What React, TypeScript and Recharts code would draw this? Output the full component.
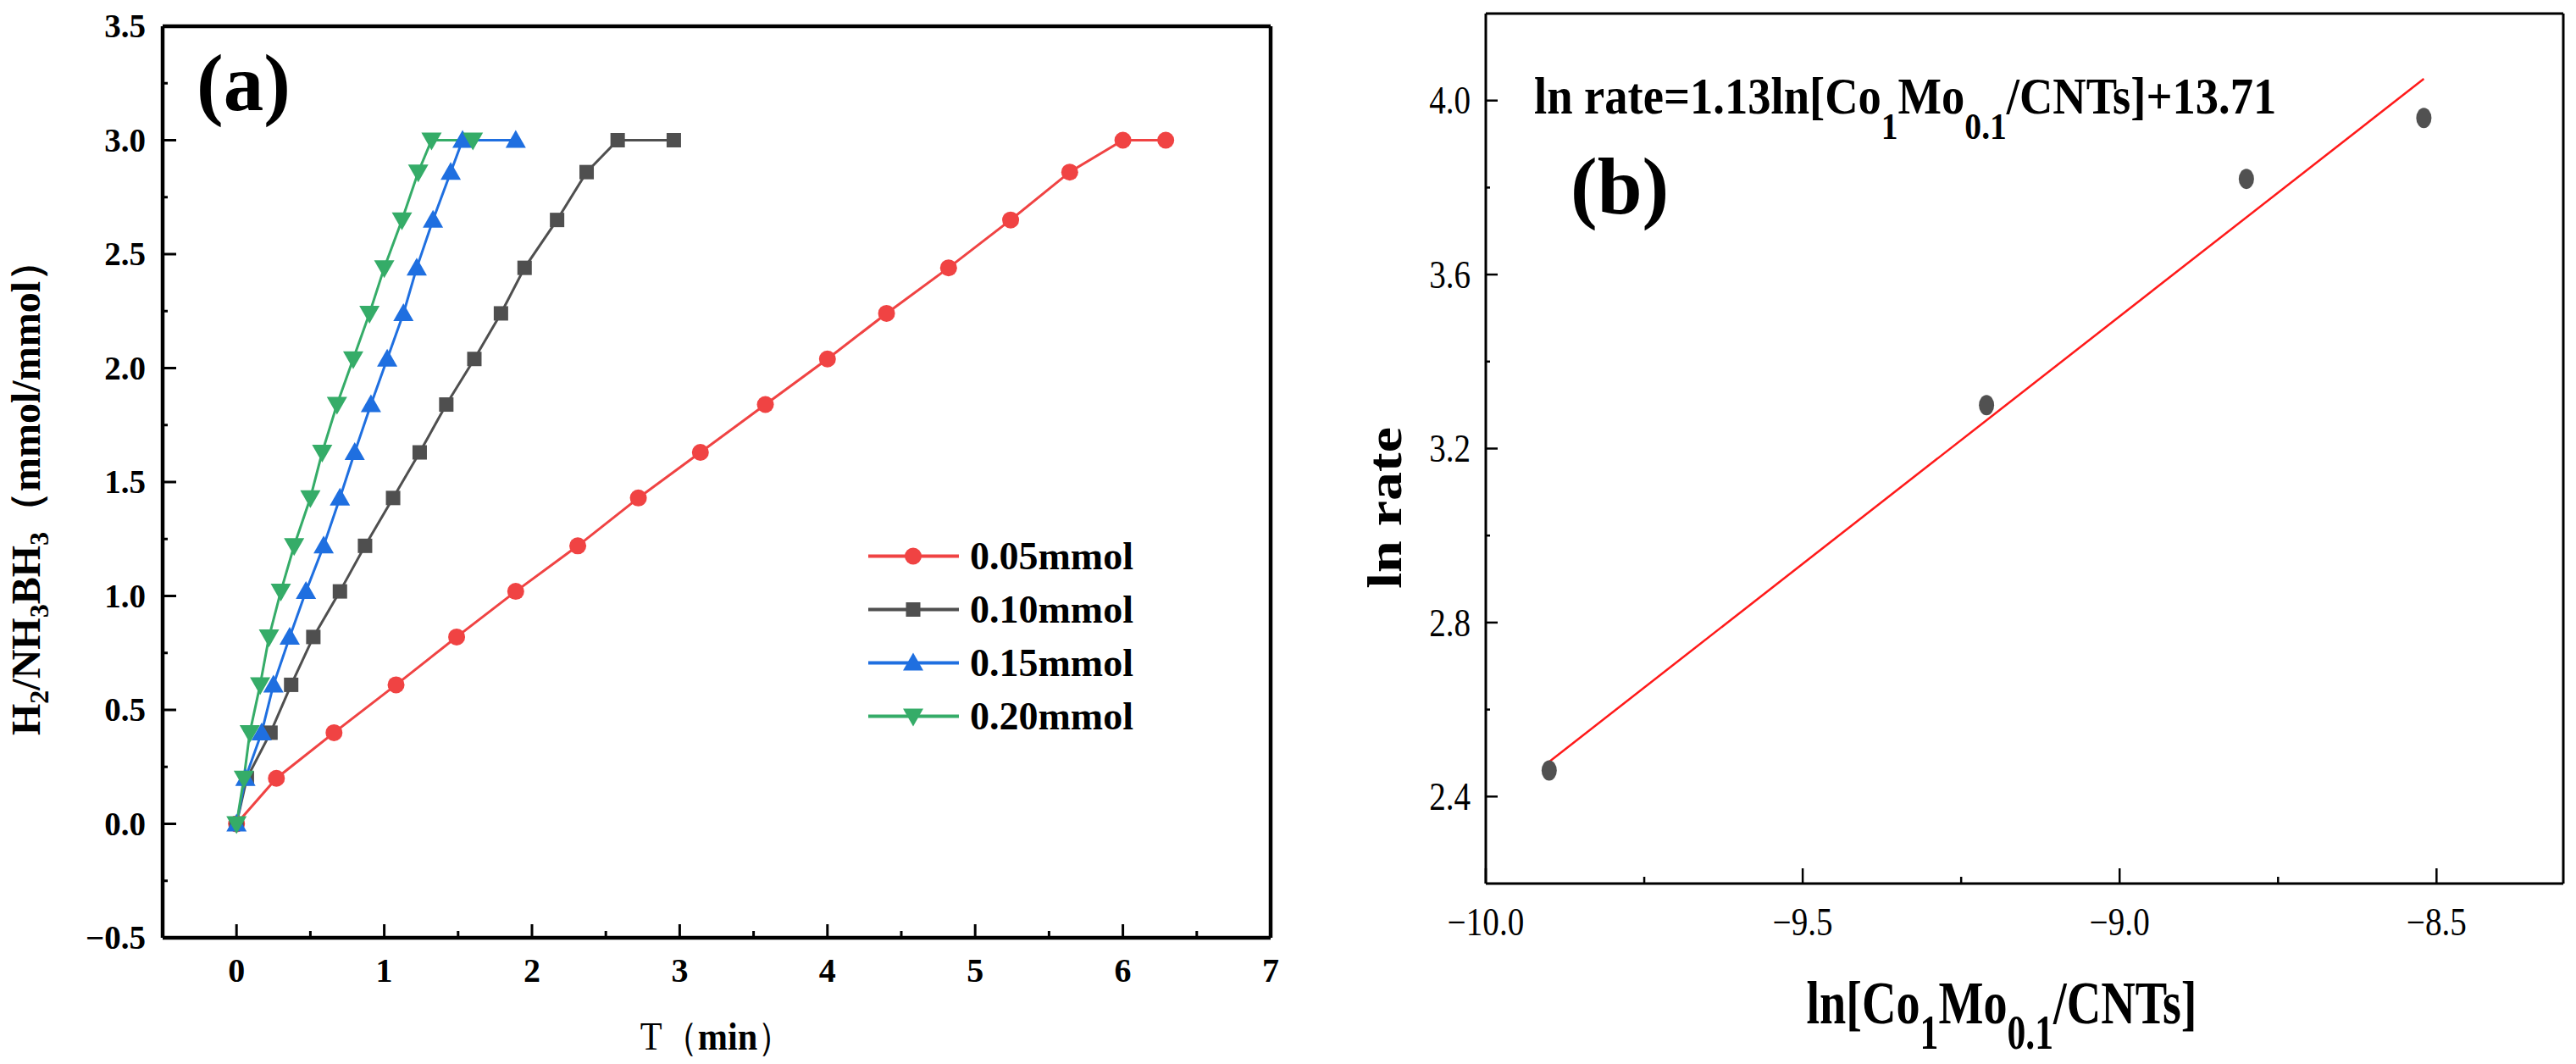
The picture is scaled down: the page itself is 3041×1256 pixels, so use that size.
import React from "react";
import {
  ComposedChart,
  Label,
  Legend,
  Line,
  LineChart,
  ReferenceLine,
  Scatter,
  XAxis,
  YAxis,
} from "recharts";

const SERIF = "'Liberation Serif', 'Times New Roman', serif";

// (a) H2 released vs time for four catalyst loadings
const LOADINGS = ["0.05mmol", "0.10mmol", "0.15mmol", "0.20mmol"];
const H2_RATIO = [0, 0.2, 0.4, 0.61, 0.82, 1.02, 1.22, 1.43, 1.63, 1.84, 2.04, 2.24, 2.44, 2.65, 2.86, 3.0, 3.0];
const T_005 = [0, 0.27, 0.66, 1.08, 1.49, 1.89, 2.31, 2.72, 3.14, 3.58, 4.0, 4.4, 4.82, 5.24, 5.64, 6.0, 6.29];
const T_010 = [0, 0.07, 0.23, 0.37, 0.52, 0.7, 0.87, 1.06, 1.24, 1.42, 1.61, 1.79, 1.95, 2.17, 2.37, 2.58, 2.96];
const T_015 = [0, 0.06, 0.17, 0.25, 0.36, 0.47, 0.59, 0.7, 0.8, 0.91, 1.02, 1.13, 1.22, 1.33, 1.45, 1.53, 1.89];
const T_020 = [0, 0.05, 0.09, 0.16, 0.22, 0.3, 0.39, 0.5, 0.58, 0.68, 0.79, 0.9, 1.0, 1.12, 1.23, 1.32, 1.6];
const T_LISTS = [T_005, T_010, T_015, T_020];
const COLORS = ["#F04343", "#4F4F4F", "#1F6FE0", "#35AC68"];
const MARKERS = ["circle", "square", "up", "down"];

const A_X_MAJOR = [0, 1, 2, 3, 4, 5, 6, 7];
const A_X_MINOR = [0.5, 1.5, 2.5, 3.5, 4.5, 5.5, 6.5];
const A_Y_MAJOR = [-0.5, 0, 0.5, 1, 1.5, 2, 2.5, 3, 3.5];
const A_Y_MINOR = [-0.25, 0.25, 0.75, 1.25, 1.75, 2.25, 2.75, 3.25];

// (b) ln rate vs ln[catalyst]
const LN_CAT = [-9.9, -9.21, -8.8, -8.52];
const LN_RATE = [2.46, 3.3, 3.82, 3.96];
const FIT_X = [-9.9, -8.52];
const FIT_Y = [2.48, 4.05];

const B_X_MAJOR = [-10, -9.5, -9, -8.5];
const B_X_MINOR = [-9.75, -9.25, -8.75];
const B_Y_MAJOR = [2.4, 2.8, 3.2, 3.6, 4.0];
const B_Y_MINOR = [2.6, 3.0, 3.4, 3.8];

const seriesA = LOADINGS.map((name, i) => ({
  name,
  color: COLORS[i],
  marker: MARKERS[i],
  data: T_LISTS[i].map((t, j) => ({ t, r: H2_RATIO[j] })),
}));
const pointsB = LN_CAT.map((x, i) => ({ x, y: LN_RATE[i] }));
const fitB = FIT_X.map((x, i) => ({ x, y: FIT_Y[i] }));

const minus = (s: string) => s.replace("-", "\u2212");

function Marker({ kind, cx, cy, color }: any) {
  if (kind === "circle") return <circle cx={cx} cy={cy} r={10} fill={color} />;
  if (kind === "square")
    return <rect x={cx - 8.5} y={cy - 8.5} width={17} height={17} fill={color} />;
  if (kind === "up")
    return (
      <polygon
        points={`${cx},${cy - 12} ${cx + 12},${cy + 9} ${cx - 12},${cy + 9}`}
        fill={color}
      />
    );
  return (
    <polygon
      points={`${cx},${cy + 12} ${cx + 12},${cy - 9} ${cx - 12},${cy - 9}`}
      fill={color}
    />
  );
}

type TickStyle = {
  side: "bottom" | "left";
  majors: number[];
  fmt: (v: number) => string;
  majorLen: number;
  minorLen: number;
  stroke: number;
  gap: number;
  fontSize: number;
  bold: boolean;
  sx: number;
};

// ticks point into the plot, minor ticks get no label
function AxisTick(props: any) {
  const { x, y, payload, st } = props as { x: number; y: number; payload: any; st: TickStyle };
  const v = payload.value;
  const major = st.majors.some((m) => Math.abs(m - v) < 1e-9);
  const len = major ? st.majorLen : st.minorLen;
  const bottom = st.side === "bottom";
  const tx = bottom ? x : x - st.gap;
  const ty = bottom ? y + st.gap : y;
  return (
    <g>
      <line
        x1={x}
        y1={y}
        x2={bottom ? x : x + len}
        y2={bottom ? y - len : y}
        stroke="#000"
        strokeWidth={st.stroke}
      />
      {major && (
        <text
          transform={`translate(${tx},${ty}) scale(${st.sx},1)`}
          textAnchor={bottom ? "middle" : "end"}
          dy={bottom ? 0 : "0.34em"}
          style={{
            fontFamily: SERIF,
            fontSize: st.fontSize,
            fontWeight: st.bold ? 700 : 400,
          }}
          fill="#000"
        >
          {st.fmt(v)}
        </text>
      )}
    </g>
  );
}

const A_XT: TickStyle = {
  side: "bottom", majors: A_X_MAJOR, fmt: (v) => String(v),
  majorLen: 16, minorLen: 8, stroke: 3, gap: 52, fontSize: 40, bold: true, sx: 1,
};
const A_YT: TickStyle = {
  side: "left", majors: A_Y_MAJOR, fmt: (v) => minus(v.toFixed(1)),
  majorLen: 16, minorLen: 6, stroke: 3, gap: 20, fontSize: 39, bold: true, sx: 1,
};
const B_XT: TickStyle = {
  side: "bottom", majors: B_X_MAJOR, fmt: (v) => minus(v.toFixed(1)),
  majorLen: 18, minorLen: 8, stroke: 2.5, gap: 61, fontSize: 46, bold: false, sx: 0.85,
};
const B_YT: TickStyle = {
  side: "left", majors: B_Y_MAJOR, fmt: (v) => v.toFixed(1),
  majorLen: 14, minorLen: 5, stroke: 2.5, gap: 18, fontSize: 46, bold: false, sx: 0.85,
};

function TitleAX({ viewBox }: any) {
  const { x, y, width } = viewBox;
  return (
    <text
      transform={`translate(${x + width / 2},${y + 132}) scale(0.92,1)`}
      textAnchor="middle"
      fontFamily={SERIF}
      fontSize={46}
      fill="#000"
    >
      T（<tspan fontWeight={700}>min</tspan>）
    </text>
  );
}

function TitleAY({ viewBox }: any) {
  const { x, y, height } = viewBox;
  return (
    <text
      transform={`translate(${x - 45},${y + height / 2 + 7}) rotate(-90)`}
      textAnchor="middle"
      fontFamily={SERIF}
      fontSize={48}
      fontWeight={700}
      fill="#000"
    >
      H<tspan fontSize={32} dy={10}>2</tspan>
      <tspan dy={-10}>/NH</tspan>
      <tspan fontSize={32} dy={10}>3</tspan>
      <tspan dy={-10}>BH</tspan>
      <tspan fontSize={32} dy={10}>3</tspan>
      <tspan dy={-10}>（mmol/mmol）</tspan>
    </text>
  );
}

function TitleBX({ viewBox }: any) {
  const { x, y, width } = viewBox;
  return (
    <text
      transform={`translate(${x + width / 2 - 27},${y + 165}) scale(0.78,1)`}
      textAnchor="middle"
      fontFamily={SERIF}
      fontSize={72}
      fontWeight={700}
      fill="#000"
    >
      ln[Co<tspan fontSize={56} dy={30}>1</tspan>
      <tspan dy={-30}>Mo</tspan>
      <tspan fontSize={56} dy={30}>0.1</tspan>
      <tspan dy={-30}>/CNTs]</tspan>
    </text>
  );
}

function TitleBY({ viewBox }: any) {
  const { x, y, height } = viewBox;
  return (
    <text
      transform={`translate(${x},${y + height / 2 + 70}) scale(0.83,1) rotate(-90)`}
      textAnchor="middle"
      fontFamily={SERIF}
      fontSize={68}
      fontWeight={700}
      fill="#000"
    >
      ln rate
    </text>
  );
}

function LegendA({ payload }: any) {
  return (
    <div>
      {(payload || []).map((e: any, i: number) => (
        <svg key={e.value} width={340} height={63} style={{ display: "block" }}>
          <line x1={0} y1={31.5} x2={107} y2={31.5} stroke={e.color} strokeWidth={4} />
          <Marker kind={MARKERS[i]} cx={53} cy={31.5} color={e.color} />
          <text x={120} y={47} fontFamily={SERIF} fontSize={46} fontWeight={700} fill="#000">
            {e.value}
          </text>
        </svg>
      ))}
    </div>
  );
}

function PanelA() {
  return (
    <LineChart width={1540} height={1256} margin={{ top: 31, right: 40, bottom: 89, left: 92 }}>
      <XAxis
        dataKey="t"
        type="number"
        domain={[-0.5, 7]}
        allowDataOverflow
        ticks={[...A_X_MAJOR, ...A_X_MINOR].sort((a, b) => a - b)}
        interval={0}
        height={60}
        tickSize={0}
        tickMargin={0}
        tickLine={false}
        axisLine={{ stroke: "#000", strokeWidth: 4.5 }}
        tick={(p: any) => <AxisTick {...p} st={A_XT} />}
      >
        <Label content={(p: any) => <TitleAX viewBox={p.viewBox} />} />
      </XAxis>
      <YAxis
        type="number"
        domain={[-0.5, 3.5]}
        allowDataOverflow
        ticks={[...A_Y_MAJOR, ...A_Y_MINOR].sort((a, b) => a - b)}
        interval={0}
        width={100}
        tickSize={0}
        tickMargin={0}
        tickLine={false}
        axisLine={{ stroke: "#000", strokeWidth: 4.5 }}
        tick={(p: any) => <AxisTick {...p} st={A_YT} />}
      >
        <Label content={(p: any) => <TitleAY viewBox={p.viewBox} />} />
      </YAxis>
      {/* closing frame on top and right */}
      <ReferenceLine y={3.5} stroke="#000" strokeWidth={4.5} />
      <ReferenceLine x={7} stroke="#000" strokeWidth={4.5} />
      <Legend
        layout="vertical"
        align="center"
        verticalAlign="middle"
        wrapperStyle={{ left: 1025, top: 625, width: 340 }}
        content={(p: any) => <LegendA payload={p.payload} />}
      />
      {seriesA.map((s) => (
        <Line
          key={s.name}
          name={s.name}
          data={s.data}
          dataKey="r"
          stroke={s.color}
          strokeWidth={3}
          isAnimationActive={false}
          activeDot={false}
          dot={(p: any) => (
            <Marker key={`${s.name}-${p.index}`} kind={s.marker} cx={p.cx} cy={p.cy} color={s.color} />
          )}
        />
      ))}
    </LineChart>
  );
}

function PanelB() {
  return (
    <ComposedChart width={1481} height={1256} margin={{ top: 16, right: 15, bottom: 153, left: 94 }}>
      <XAxis
        dataKey="x"
        type="number"
        domain={[-10, -8.3]}
        allowDataOverflow
        ticks={[...B_X_MAJOR, ...B_X_MINOR].sort((a, b) => a - b)}
        interval={0}
        height={60}
        tickSize={0}
        tickMargin={0}
        tickLine={false}
        axisLine={{ stroke: "#000", strokeWidth: 3 }}
        tick={(p: any) => <AxisTick {...p} st={B_XT} />}
      >
        <Label content={(p: any) => <TitleBX viewBox={p.viewBox} />} />
      </XAxis>
      <YAxis
        dataKey="y"
        type="number"
        domain={[2.2, 4.2]}
        allowDataOverflow
        ticks={[...B_Y_MAJOR, ...B_Y_MINOR].sort((a, b) => a - b)}
        interval={0}
        width={100}
        tickSize={0}
        tickMargin={0}
        tickLine={false}
        axisLine={{ stroke: "#000", strokeWidth: 3 }}
        tick={(p: any) => <AxisTick {...p} st={B_YT} />}
      >
        <Label content={(p: any) => <TitleBY viewBox={p.viewBox} />} />
      </YAxis>
      <ReferenceLine y={4.2} stroke="#000" strokeWidth={3} />
      <ReferenceLine x={-8.3} stroke="#000" strokeWidth={3} />
      <Line
        data={fitB}
        dataKey="y"
        stroke="#FF1A1A"
        strokeWidth={2.5}
        dot={false}
        activeDot={false}
        isAnimationActive={false}
      />
      <Scatter
        data={pointsB}
        dataKey="y"
        fill="#515151"
        isAnimationActive={false}
        shape={(p: any) => <ellipse cx={p.cx} cy={p.cy} rx={9} ry={12} fill="#515151" />}
      />
    </ComposedChart>
  );
}

export default function App() {
  return (
    <div style={{ position: "absolute", left: 0, top: 0, width: 3041, height: 1256, background: "#fff" }}>
      <div style={{ position: "absolute", left: 0, top: 0 }}>
        <PanelA />
      </div>
      <div style={{ position: "absolute", left: 1560, top: 0 }}>
        <PanelB />
      </div>
      <svg
        width={3041}
        height={1256}
        style={{ position: "absolute", left: 0, top: 0, pointerEvents: "none" }}
      >
        <text x={232} y={130} fontFamily={SERIF} fontSize={95} fontWeight={700}>
          (a)
        </text>
        <text x={1854} y={252} fontFamily={SERIF} fontSize={95} fontWeight={700}>
          (b)
        </text>
        <text
          transform="translate(1811,134) scale(0.88,1)"
          fontFamily={SERIF}
          fontSize={62}
          fontWeight={700}
        >
          ln rate=1.13ln[Co<tspan fontSize={45} dy={30}>1</tspan>
          <tspan dy={-30}>Mo</tspan>
          <tspan fontSize={45} dy={30}>0.1</tspan>
          <tspan dy={-30}>/CNTs]+13.71</tspan>
        </text>
      </svg>
    </div>
  );
}
